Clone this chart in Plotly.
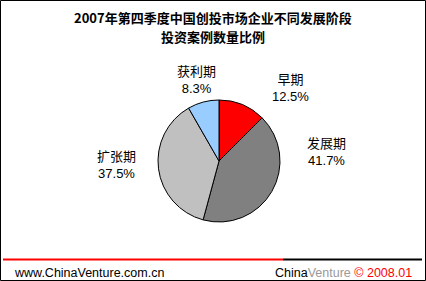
import plotly.graph_objects as go

categories = ["早期", "发展期", "扩张期", "获利期"]
values = [12.5, 41.7, 37.5, 8.3]
colors = ["#FF0000", "#808080", "#C0C0C0", "#99CCFF"]
title_lines = ["2007年第四季度中国创投市场企业不同发展阶段", "投资案例数量比例"]

W, H = 426, 281
# label anchor positions in pixels (x, y of first line centre)
label_pos = [(290, 80), (326, 144), (116, 157), (196, 72)]

def px(x):
    return x / W

def py(y):
    return 1 - y / H

fig = go.Figure()
fig.add_trace(go.Pie(
    labels=categories,
    values=values,
    sort=False,
    direction="clockwise",
    rotation=0,
    marker=dict(colors=colors, line=dict(color="#000000", width=1)),
    textinfo="none",
    hoverinfo="label+percent",
    showlegend=False,
    domain=dict(x=[px(158), px(280)], y=[py(222), py(100)]),
))

font_main = "Liberation Sans, Arial, Noto Sans CJK SC, sans-serif"
annotations = []
for (cx, cy), cat, v in zip(label_pos, categories, values):
    annotations.append(dict(
        x=px(cx), y=py(cy + 8), xref="paper", yref="paper",
        text=f"{cat}<br>{v:.1f}%", showarrow=False,
        font=dict(size=13, color="#000000", family=font_main),
        xanchor="center", yanchor="middle", align="center",
    ))

for i, line in enumerate(title_lines):
    annotations.append(dict(
        x=0.5, y=py(17 + 19 * i), xref="paper", yref="paper",
        text="<b>" + line + "</b>",
        showarrow=False, font=dict(size=13, color="#000000", family="Noto Sans CJK SC, sans-serif"),
        xanchor="center", yanchor="middle", align="center",
    ))
annotations.append(dict(
    x=px(12), y=py(273), xref="paper", yref="paper",
    text="www.ChinaVenture.com.cn", showarrow=False,
    font=dict(size=12.5, color="#000000", family=font_main),
    xanchor="left", yanchor="middle",
))
annotations.append(dict(
    x=px(414), y=py(273), xref="paper", yref="paper",
    text="China<span style='color:#999999'>Venture</span> <span style='color:#FF0000'>© 2008.01</span>",
    showarrow=False,
    font=dict(size=12.5, color="#000000", family=font_main),
    xanchor="right", yanchor="middle",
))

shapes = [
    dict(type="rect", xref="paper", yref="paper", x0=px(0.5), x1=px(W - 0.5), y0=py(H - 0.5), y1=py(0.5),
         line=dict(color="#000000", width=1)),
    dict(type="line", xref="paper", yref="paper", x0=px(3), x1=px(283), y0=py(259.5), y1=py(259.5),
         line=dict(color="#FF0000", width=2)),
    dict(type="line", xref="paper", yref="paper", x0=px(283), x1=px(422), y0=py(259.5), y1=py(259.5),
         line=dict(color="#000000", width=2)),
]

fig.update_layout(
    width=W, height=H,
    margin=dict(l=0, r=0, t=0, b=0),
    paper_bgcolor="#FFFFFF",
    plot_bgcolor="#FFFFFF",
    annotations=annotations,
    shapes=shapes,
)

fig.write_html("out.html")
